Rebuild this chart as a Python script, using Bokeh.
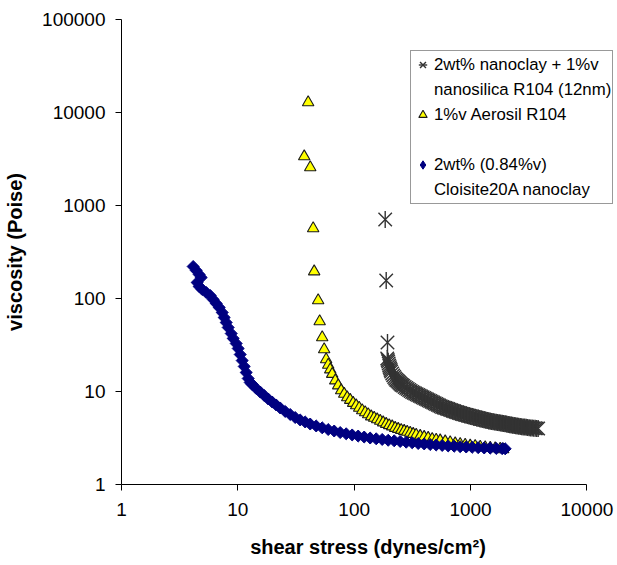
from bokeh.plotting import figure
from bokeh.models import Range1d, FixedTicker, PrintfTickFormatter, Legend, LegendItem
from bokeh.embed import file_html
from bokeh.resources import INLINE

# ---- data ----
x_ticks = [1, 10, 100, 1000, 10000]
y_ticks = [1, 10, 100, 1000, 10000, 100000]

# 2wt% nanoclay + 1%v nanosilica R104 (12nm)  -- asterisks
mix_x = [184.7, 188.4, 193.3,
         192.2, 194.1, 196.0, 197.9, 199.9, 201.9, 203.9, 205.9, 208.0, 212.2,
         216.4, 220.7, 225.1, 229.6, 234.2, 238.9, 243.7, 248.5, 253.5, 258.6,
         263.8, 271.7, 279.9, 288.3, 297.0, 305.9, 315.1, 324.6, 334.4, 344.4,
         354.8, 365.5, 376.5, 387.8, 399.5, 411.6, 424.0, 436.8, 449.9, 463.5,
         477.5, 491.9, 506.6, 521.9, 537.7, 553.9, 570.6, 587.8, 605.6, 623.9,
         642.7, 662.1, 682.0, 702.6, 723.8, 745.5, 767.8, 790.9, 814.7, 839.3,
         864.7, 890.7, 917.6, 945.2, 973.6, 1003, 1033, 1064, 1096, 1129,
         1163, 1198, 1235, 1272, 1310, 1349, 1390, 1432, 1476, 1520,
         1565, 1613, 1662, 1712, 1763, 1816, 1871, 1927, 1985, 2045,
         2107, 2171, 2236, 2303, 2372, 2443, 2517, 2593, 2672, 2752,
         2835, 2921, 3009, 3100, 3193, 3289, 3387, 3489, 3594, 3703, 3814]
mix_y = [707, 156.2, 33.6,
         22.6, 21.8, 21.0, 20.0, 19.0, 18.3, 17.7, 17.0, 16.4, 15.6,
         14.9, 14.3, 13.8, 13.4, 13.1, 12.8, 12.5, 12.2, 11.9, 11.7,
         11.5, 11.2, 10.9, 10.65, 10.4, 10.14, 9.88, 9.70, 9.52, 9.34,
         9.17, 9.00, 8.84, 8.67, 8.51, 8.35, 8.20, 8.05, 7.90, 7.75,
         7.61, 7.47, 7.34, 7.20, 7.07, 6.94, 6.81, 6.73, 6.65, 6.56,
         6.48, 6.39, 6.30, 6.21, 6.12, 6.04, 5.97, 5.90, 5.83, 5.76,
         5.70, 5.64, 5.59, 5.53, 5.48, 5.43, 5.38, 5.31, 5.25, 5.20,
         5.15, 5.10, 5.06, 5.02, 4.98, 4.93, 4.88, 4.83, 4.79, 4.75,
         4.72, 4.69, 4.67, 4.64, 4.61, 4.58, 4.55, 4.52, 4.50, 4.46,
         4.42, 4.39, 4.36, 4.33, 4.31, 4.28, 4.26, 4.23, 4.20, 4.18,
         4.16, 4.14, 4.12, 4.10, 4.08, 4.06, 4.05, 4.03, 4.02, 4.01, 4.00]

# 1%v Aerosil R104 -- triangles
aer_x = [40.2, 37.2, 41.9, 44.4, 45.3, 49.0, 50.5, 53.1, 55.2,
         57.4, 59.8, 62.2, 64.7, 68.7, 72.9, 77.3, 82.1, 87.1, 92.4, 98.0,
         104.0, 110.4, 117.2, 124.3, 131.9, 140.0, 148.5, 157.6, 167.3, 177.5,
         188.4, 199.9, 212.2, 225.1, 238.9, 253.5, 269.0, 285.5, 302.9, 321.5,
         341.2, 369.3, 399.5, 432.5, 468.2, 506.6, 548.4, 605.6, 668.5, 738.3,
         814.7, 899.5, 993.1, 1096, 1211, 1337, 1476, 1629, 1798, 1909]
aer_y = [12820, 3365, 2563, 566, 195, 95.2, 56.6, 38.1, 28.3,
         22.1, 19.3, 17.2, 15.4, 13.1, 11.6, 10.25, 9.40, 8.62, 8.10, 7.52,
         7.07, 6.65, 6.25, 5.95, 5.66, 5.38, 5.19, 5.00, 4.82, 4.64,
         4.47, 4.33, 4.20, 4.05, 3.95, 3.85, 3.76, 3.67, 3.58, 3.49,
         3.41, 3.32, 3.24, 3.16, 3.08, 3.02, 2.97, 2.90, 2.83, 2.76,
         2.71, 2.66, 2.61, 2.58, 2.54, 2.51, 2.47, 2.44, 2.41, 2.38]

# 2wt% (0.84%v) Cloisite20A nanoclay -- diamonds
clo_x = [4.13, 4.39, 4.65, 4.84, 4.47, 4.65, 4.94, 5.35, 5.79, 6.14, 6.52,
         6.92, 7.34, 7.63, 7.94, 8.26, 8.77, 9.12, 9.68, 10.07, 10.48, 10.90,
         11.34, 11.80, 12.27, 12.77,
         13.29, 14.38, 15.56, 16.85, 18.24, 19.73, 21.36, 23.12, 25.53, 28.18,
         31.11, 34.35, 37.93, 41.87, 47.14, 53.09, 59.78, 67.31, 75.80, 85.35,
         96.1, 108.2, 121.9, 137.2, 154.6, 174.0, 196.0, 220.7, 248.5, 279.9,
         315.1, 354.9, 399.5, 449.9, 506.6, 570.6, 642.7, 723.8, 814.7, 917.6,
         1033, 1163, 1310, 1476, 1662, 1871, 1985]
clo_y = [220.8, 200.0, 181.2, 168.2, 148.6, 134.6, 124.9, 116.0, 107.7, 97.6,
         88.4, 80.0, 70.7, 62.5, 55.2, 48.8, 42.0, 37.2, 32.8, 29.0, 25.0, 21.5,
         18.6, 16.0, 13.8, 12.5,
         11.9, 10.77, 9.88, 9.06, 8.31, 7.71, 7.16, 6.65, 6.10, 5.66,
         5.25, 4.94, 4.70, 4.47, 4.26, 4.07, 3.90, 3.76, 3.62, 3.51,
         3.41, 3.32, 3.24, 3.16, 3.10, 3.05, 2.99, 2.95, 2.90, 2.85,
         2.81, 2.76, 2.73, 2.69, 2.66, 2.63, 2.60, 2.58, 2.55, 2.53,
         2.51, 2.49, 2.47, 2.46, 2.44, 2.43, 2.42]

legend_lines = ["2wt% nanoclay + 1%v", "nanosilica R104 (12nm)",
                "1%v Aerosil R104", " ",
                "2wt% (0.84%v)", "Cloisite20A nanoclay"]

FONT = "Liberation Sans"

# frame spans past x=10000 so the legend (which overhangs the axis end) is not clipped;
# the bottom axis itself is bounded to 1..10000
p = figure(width=617, height=565, x_axis_type="log", y_axis_type="log",
           x_range=Range1d(1, 17270), y_range=Range1d(1, 100000),
           output_backend="svg", toolbar_location=None, title=None,
           min_border_left=121, min_border_right=3,
           min_border_top=19, min_border_bottom=81)

p.xgrid.visible = False
p.ygrid.visible = False
p.outline_line_color = None
p.background_fill_color = "white"
p.border_fill_color = "white"

for ax, ticks in ((p.xaxis[0], x_ticks), (p.yaxis[0], y_ticks)):
    ax.ticker = FixedTicker(ticks=ticks, minor_ticks=[])
    ax.formatter = PrintfTickFormatter(format="%d")
    ax.major_label_text_font = FONT
    ax.major_label_text_font_size = "19px"
    ax.major_label_text_color = "black"
    ax.major_tick_out = 6
    ax.major_tick_in = 0
    ax.minor_tick_out = 0
    ax.minor_tick_in = 0
    ax.axis_line_color = "black"
    ax.major_tick_line_color = "black"
    ax.axis_label_text_font = FONT
    ax.axis_label_text_font_style = "bold"
    ax.axis_label_text_font_size = "20px"
    ax.axis_label_text_color = "black"

p.xaxis[0].bounds = (x_ticks[0], x_ticks[-1])
p.xaxis[0].axis_label = "shear stress (dynes/cm²)"
p.yaxis[0].axis_label = "viscosity (Poise)"
p.xaxis[0].major_label_standoff = 12
p.xaxis[0].axis_label_standoff = 17
p.yaxis[0].major_label_standoff = 10
p.yaxis[0].axis_label_standoff = 13

GRAY = "#333333"
r_mix_x = p.scatter(mix_x, mix_y, marker="x", size=19,
                    line_color=GRAY, line_width=1.4)
r_mix_v = p.scatter(mix_x, mix_y, marker="dash", angle=1.5708, size=17,
                    line_color=GRAY, line_width=1.4)
r_aer = p.scatter(aer_x, aer_y, marker="triangle", size=11.5,
                  fill_color="#FFFF00", line_color="#1a1a1a", line_width=1.1)
r_clo = p.scatter(clo_x, clo_y, marker="square", angle=0.785398, size=8.5,
                  fill_color="#000080", line_color="#000080", line_width=1)
# legend key for the diamonds (sits on the series' first point)
r_clo_key = p.scatter(clo_x[:1], clo_y[:1], marker="diamond", size=9,
                      fill_color="#000080", line_color="#000080")
r_blank = p.scatter([], [], marker="square", size=1, fill_alpha=0, line_alpha=0)

items = [
    LegendItem(label=legend_lines[0], renderers=[r_mix_x, r_mix_v]),
    LegendItem(label=legend_lines[1], renderers=[r_blank]),
    LegendItem(label=legend_lines[2], renderers=[r_aer]),
    LegendItem(label=legend_lines[3], renderers=[r_blank]),
    LegendItem(label=legend_lines[4], renderers=[r_clo_key]),
    LegendItem(label=legend_lines[5], renderers=[r_blank]),
]
legend = Legend(items=items, location=(289, 280),
                label_text_font=FONT, label_text_font_size="16.8px",
                label_text_color="black",
                padding=1, spacing=0, margin=0,
                glyph_width=21, glyph_height=25, label_height=25,
                label_standoff=1,
                border_line_color=GRAY, border_line_width=1,
                background_fill_color="white", background_fill_alpha=1)
p.add_layout(legend)

open("out.html", "w").write(file_html(p, INLINE))
